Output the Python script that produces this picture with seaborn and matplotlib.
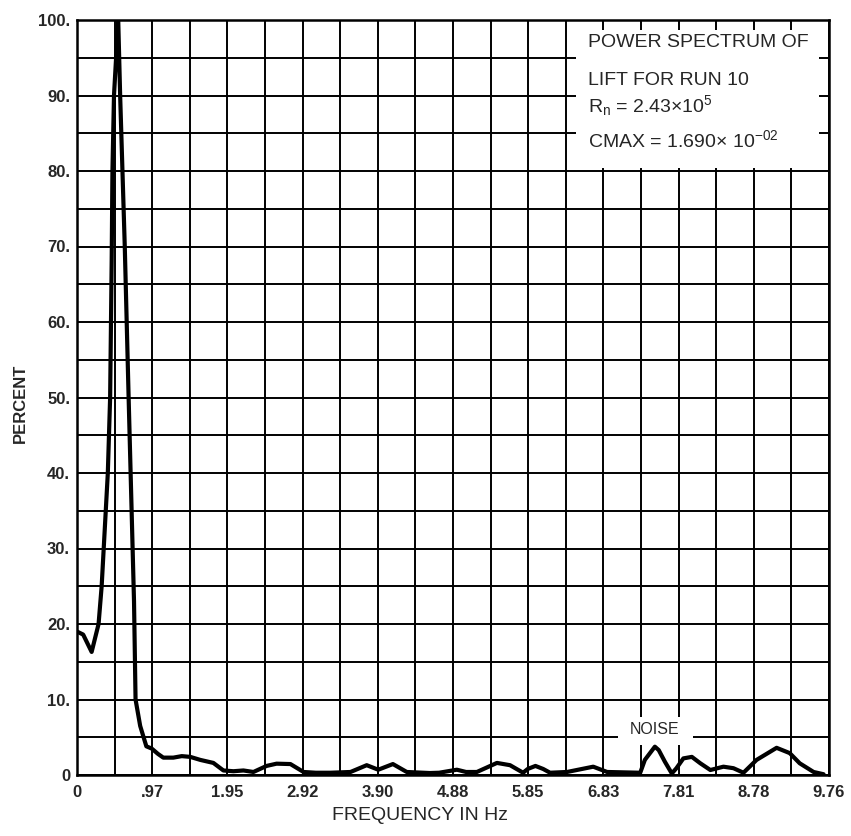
import numpy as np
import pandas as pd
import matplotlib
matplotlib.use("Agg")
import matplotlib.pyplot as plt
from matplotlib.patches import Rectangle
import seaborn as sns

# power spectrum of lift, run 10
freq = [0.00, 0.08, 0.19, 0.28, 0.32, 0.36, 0.40, 0.43, 0.45, 0.46, 0.48, 0.535,
        0.56, 0.62, 0.67, 0.74, 0.76, 0.82, 0.90, 0.97, 1.05, 1.12, 1.25, 1.36,
        1.47, 1.60, 1.77, 1.90, 2.03, 2.16, 2.29, 2.46, 2.59, 2.77, 2.94, 3.10,
        3.29, 3.55, 3.76, 3.91, 4.10, 4.28, 4.58, 4.70, 4.93, 5.05, 5.19, 5.45,
        5.62, 5.79, 5.85, 5.95, 6.05, 6.14, 6.36, 6.70, 6.88, 7.31, 7.37, 7.50,
        7.55, 7.63, 7.72, 7.78, 7.87, 7.98, 8.09, 8.22, 8.39, 8.52, 8.65, 8.82,
        9.08, 9.25, 9.38, 9.56, 9.69]
percent = [19.0, 18.6, 16.3, 20.0, 25.0, 32.5, 40.0, 50.0, 68.0, 80.0, 90.0, 100.0,
           90.0, 70.0, 50.0, 23.0, 10.0, 6.5, 3.8, 3.5, 2.8, 2.3, 2.3, 2.5,
           2.4, 2.0, 1.6, 0.6, 0.5, 0.6, 0.4, 1.2, 1.5, 1.45, 0.4, 0.3,
           0.3, 0.4, 1.3, 0.7, 1.45, 0.4, 0.26, 0.3, 0.7, 0.4, 0.4, 1.6,
           1.3, 0.3, 0.8, 1.2, 0.8, 0.3, 0.4, 1.1, 0.4, 0.3, 2.0, 3.75,
           3.3, 1.76, 0.2, 0.9, 2.2, 2.4, 1.55, 0.66, 1.1, 0.9, 0.3, 2.0,
           3.6, 2.9, 1.55, 0.4, 0.1]

x_ticks = [0, 0.976, 1.952, 2.928, 3.904, 4.88, 5.856, 6.832, 7.808, 8.784, 9.76]
x_labels = ["0", ".97", "1.95", "2.92", "3.90", "4.88", "5.85", "6.83", "7.81", "8.78", "9.76"]
y_ticks = [0, 10, 20, 30, 40, 50, 60, 70, 80, 90, 100]
y_labels = ["0", "10.", "20.", "30.", "40.", "50.", "60.", "70.", "80.", "90.", "100."]

info_lines = [
    "POWER SPECTRUM OF",
    "LIFT FOR RUN 10",
    r"R$_{\mathregular{n}}$ = 2.43×10$^{\mathregular{5}}$",
    r"CMAX = 1.690× 10$^{\mathregular{-02}}$",
]

sns.set_style("white")
plt.rcParams["font.family"] = ["Liberation Sans", "DejaVu Sans"]
plt.rcParams["mathtext.fontset"] = "custom"
plt.rcParams["mathtext.rm"] = "Liberation Sans"
plt.rcParams["mathtext.it"] = "Liberation Sans:italic"
plt.rcParams["mathtext.bf"] = "Liberation Sans:bold"
plt.rcParams["axes.unicode_minus"] = True

df = pd.DataFrame({"freq": freq, "percent": percent})

fig = plt.figure(figsize=(8.51, 8.36), dpi=100)
ax = fig.add_axes([77 / 851, 61 / 836, 752 / 851, 755 / 836])

sns.lineplot(data=df, x="freq", y="percent", ax=ax, color="black", linewidth=3.0,
             sort=False, estimator=None, zorder=3)

ax.set_xlim(0, 9.76)
ax.set_ylim(0, 100)
ax.set_xticks(x_ticks)
ax.set_xticklabels(x_labels, fontsize=12, fontweight="bold")
ax.set_xticks(np.arange(0.488, 9.76, 0.976), minor=True)
ax.set_yticks(y_ticks)
ax.set_yticklabels(y_labels, fontsize=12, fontweight="bold")
ax.set_yticks(np.arange(5, 100, 10), minor=True)
ax.tick_params(which="both", length=0)
ax.tick_params(axis="x", pad=7)
ax.tick_params(axis="y", pad=5)
ax.grid(True, which="both", color="black", linewidth=1.4)
ax.set_axisbelow(True)
for s in ax.spines.values():
    s.set_color("black")
    s.set_linewidth(1.8)
ax.set_xlabel("")
ax.set_ylabel("")

# white label box in upper right (grid stubs stay visible at its edges)
ax.add_patch(Rectangle((6.47, 80.4), 9.63 - 6.47, 98.7 - 80.4,
                       facecolor="white", edgecolor="none", zorder=1))
for txt, yb in zip(info_lines, [96.4, 91.4, 87.8, 83.2]):
    ax.text(6.63, yb, txt, fontsize=14, va="baseline", ha="left", zorder=4)

# noise label
ax.add_patch(Rectangle((7.02, 4.0), 0.98, 3.7, facecolor="white", edgecolor="none", zorder=1))
ax.text(7.50, 6.0, "NOISE", fontsize=11.5, ha="center", va="center", zorder=4)

fig.text(420 / 851, 1 - 815 / 836, "FREQUENCY IN Hz", fontsize=14, ha="center", va="center")
fig.text(20 / 851, 1 - 403 / 836, "PERCENT", fontsize=12, fontweight="bold",
         rotation=90, ha="center", va="center")

fig.savefig("out.png", dpi=100, facecolor="white")
